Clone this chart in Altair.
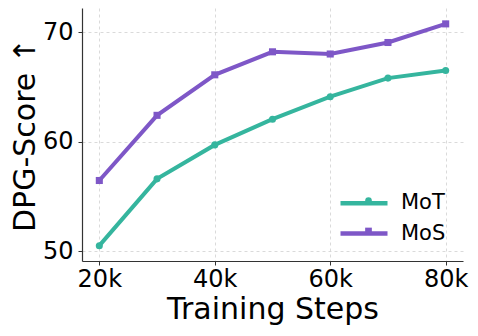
import altair as alt
import pandas as pd

steps = [20, 30, 40, 50, 60, 70, 80]
mot = [50.5, 56.6, 59.7, 62.05, 64.1, 65.8, 66.5]
mos = [56.45, 62.4, 66.1, 68.2, 68.0, 69.05, 70.75]
series = ["MoT", "MoS"]
colors = ["#35b59e", "#7e57c7"]
shapes = ["circle", "square"]
x_ticks = [20, 40, 60, 80]
y_ticks = [50, 60, 70]

FONT = "DejaVu Sans"

x = alt.X("step:Q",
          scale=alt.Scale(domain=[17, 83], nice=False, zero=False),
          axis=alt.Axis(values=x_ticks, labelExpr="datum.value + 'k'",
                        title="Training Steps"))
y = alt.Y("score:Q",
          scale=alt.Scale(domain=[49.1, 72.2], nice=False, zero=False),
          axis=alt.Axis(values=y_ticks, title="DPG-Score ↑"))

# legend row centres (plot-relative px)
row_y = [192.7, 223.0]

line_layers = []
pt_layers = []
for i, (name, vals) in enumerate(zip(series, [mot, mos])):
    d = pd.DataFrame({"step": steps, "score": vals, "model": [name] * len(steps)})
    cs = alt.Scale(domain=[name], range=[colors[i]])
    line_leg = alt.Legend(orient="none", legendX=256, legendY=row_y[i] - 23.5,
                          title=None, symbolType="stroke", symbolSize=2209,
                          symbolStrokeWidth=4.5, labelFontSize=21, labelFont=FONT,
                          labelColor="#000", labelOffset=11, padding=0)
    pt_leg = alt.Legend(orient="none", legendX=276, legendY=row_y[i] - 10.5,
                        title=None, symbolType=shapes[i], symbolSize=45,
                        symbolStrokeWidth=0, symbolOpacity=1, symbolFillColor=colors[i],
                        labelFontSize=21, labelFont=FONT, labelExpr="''",
                        labelOffset=11, padding=0)
    line_layers.append(
        alt.Chart(d).mark_line(strokeWidth=4).encode(
            x=x, y=y, color=alt.Color("model:N", scale=cs, legend=line_leg))
    )
    pt_layers.append(
        alt.Chart(d).mark_point(filled=True, opacity=1, size=50, shape=shapes[i]).encode(
            x=x, y=y, color=alt.Color("model:N", scale=cs, legend=pt_leg))
    )

chart = alt.layer(*line_layers, *pt_layers).resolve_scale(
    color="independent"
).resolve_legend(
    color="independent"
).properties(
    width=381, height=253,
    autosize=alt.AutoSizeParams(type="none"),
    padding={"left": 74, "top": 0, "right": 7, "bottom": 67},
).configure_view(stroke=None).configure_axis(
    labelFont=FONT, titleFont=FONT, labelFontSize=24, titleFontSize=30,
    labelColor="#000", titleColor="#000", titleFontWeight="normal",
    domainColor="#333", domainWidth=1.2, tickColor="#333", tickSize=4,
    gridColor="#d0d0d0", gridDash=[3, 3], gridWidth=0.8,
).configure_axisX(
    labelPadding=2, titlePadding=3,
).configure_axisY(
    labelPadding=5, titlePadding=2,
)

chart.save("out.html", embed_options={"renderer": "svg", "actions": False})
